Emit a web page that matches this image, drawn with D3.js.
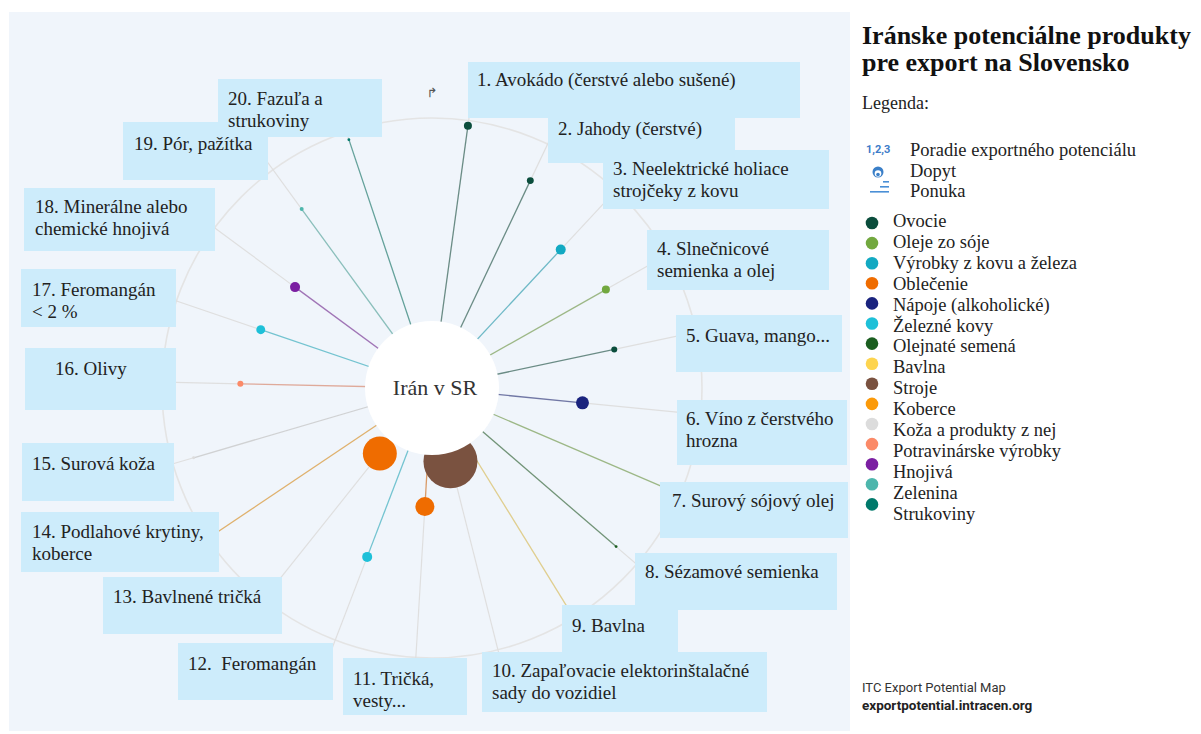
<!DOCTYPE html>
<html>
<head>
<meta charset="utf-8">
<script src="https://cdn.jsdelivr.net/npm/d3@7"></script>
<style>
  body { margin: 0; background: #fff; }
  svg text { font-family: "Liberation Serif", "Times New Roman", serif; fill: #222; }
</style>
</head>
<body>
<div id="chart"></div>
<script>
const width = 1201
const height = 734

// products ordered by export potential rank (label lines)
const products = [
  ["1. Avokádo (čerstvé alebo sušené)"],
  ["2. Jahody (čerstvé)"],
  ["3. Neelektrické holiace", "strojčeky z kovu"],
  ["4. Slnečnicové", "semienka a olej"],
  ["5. Guava, mango..."],
  ["6. Víno z čerstvého", "hrozna"],
  ["7. Surový sójový olej"],
  ["8. Sézamové semienka"],
  ["9. Bavlna"],
  ["10. Zapaľovacie elektorinštalačné", "sady do vozidiel"],
  ["11. Tričká,", "vesty..."],
  ["12.  Feromangán"],
  ["13. Bavlnené tričká"],
  ["14. Podlahové krytiny,", "koberce"],
  ["15. Surová koža"],
  ["16. Olivy"],
  ["17. Feromangán", "< 2 %"],
  ["18. Minerálne alebo", "chemické hnojivá"],
  ["19. Pór, pažítka"],
  ["20. Fazuľa a", "strukoviny"]
]

const categories = ["Ovocie", "Oleje zo sóje", "Výrobky z kovu a železa", "Oblečenie",
  "Nápoje (alkoholické)", "Železné kovy", "Olejnaté semená", "Bavlna", "Stroje", "Koberce",
  "Koža a produkty z nej", "Potravinárske výrobky", "Hnojivá", "Zelenina", "Strukoviny"]

const categoryColors = ["#0b4d3c", "#72a83f", "#12a9c2", "#ef6c00", "#1a237e", "#1ec0d8",
  "#1b5e20", "#fdd44f", "#7a5240", "#fb9a0a", "#dcdcdc", "#fb8a68", "#7b1fa2", "#4db6ac", "#00796b"]

// category of each product
const productCategory = ["Ovocie", "Ovocie", "Výrobky z kovu a železa", "Oleje zo sóje", "Ovocie",
  "Nápoje (alkoholické)", "Oleje zo sóje", "Olejnaté semená", "Bavlna", "Stroje", "Oblečenie",
  "Železné kovy", "Oblečenie", "Koberce", "Koža a produkty z nej", "Potravinárske výrobky",
  "Železné kovy", "Hnojivá", "Zelenina", "Strukoviny"]

// supply (ponuka), position of the dot along the spoke, 0..1
const supply = [0.98, 0.85, 0.70, 0.74, 0.69, 0.56, 0.93, 0.90, 0.97, 0.28,
  0.44, 0.67, 0.31, 0.96, 0.92, 0.71, 0.67, 0.63, 0.82, 0.97]

// demand (dopyt), dot area
const demand = [1.6, 1.2, 2.5, 1.6, 0.9, 4.2, 0.15, 0.2, 0.15, 72.9,
  9.0, 2.5, 28.9, 0.2, 0.2, 0.9, 2.0, 2.5, 0.4, 0.2]

// label box placement [x, y, w, h]
const labelBoxes = [
  [468, 62, 332, 56], [548, 115, 187, 48], [603, 150, 226, 59], [647, 230, 182, 60],
  [676, 315, 166, 57], [677, 400, 170, 65], [660, 482, 188, 56], [635, 553, 202, 57],
  [562, 605, 116, 47], [482, 652, 285, 60], [343, 658, 124, 57], [178, 643, 155, 57],
  [103, 577, 179, 57], [21, 512, 198, 60], [22, 443, 152, 58], [25, 348, 151, 62],
  [21, 269, 155, 58], [24, 188, 191, 63], [123, 122, 145, 58], [218, 79, 164, 58]
]
const textPad = [9, 10, 10, 10, 10, 9, 12, 10, 10, 10, 10, 10, 10, 11, 10, 30, 11, 11, 11, 10]
const textTop = [24, 20, 25, 25, 27, 25, 25, 25, 27, 25, 27, 27, 26, 26, 27, 27, 27, 25, 28, 26]

const data = products.map((label, i) => ({
  rank: i + 1, label, category: productCategory[i], supply: supply[i], demand: demand[i]
}))

const cx = 432, cy = 388

const svg = d3.select("#chart")
  .append("svg")
    .attr("width", width)
    .attr("height", height)

svg.append("rect")
  .attr("x", 9).attr("y", 12)
  .attr("width", 841).attr("height", 719)
  .attr("fill", "#f0f5fb")

const color = d3.scaleOrdinal()
  .domain(categories)
  .range(categoryColors)

const angle = d3.scaleLinear()
  .domain([1, 20])
  .range([7.8, 341.5].map(d => d * Math.PI / 180))

const radius = d3.scaleLinear()
  .domain([0, 1])
  .range([0, 270])

const size = d3.scaleSqrt()
  .domain([0, d3.max(demand)])
  .range([0, 27])

const px = (d, r) => cx + r * Math.sin(angle(d.rank))
const py = (d, r) => cy - r * Math.cos(angle(d.rank))

const g = svg.append("g")

// outer ring
g.append("circle")
  .attr("cx", cx).attr("cy", cy)
  .attr("r", radius(1))
  .attr("fill", "none")
  .attr("stroke", "#e4e4e4")
  .attr("stroke-width", 1.6)

// grey spokes running out to the labels
g.selectAll(".spoke")
  .data(data)
  .join("line")
    .attr("class", "spoke")
    .attr("x1", d => px(d, radius(d.supply)))
    .attr("y1", d => py(d, radius(d.supply)))
    .attr("x2", d => px(d, 300))
    .attr("y2", d => py(d, 300))
    .attr("stroke", "#dfdfdf")
    .attr("stroke-width", 1.2)

// coloured part from the centre to the dot
g.selectAll(".stem")
  .data(data)
  .join("line")
    .attr("class", "stem")
    .attr("x1", cx).attr("y1", cy)
    .attr("x2", d => px(d, radius(d.supply)))
    .attr("y2", d => py(d, radius(d.supply)))
    .attr("stroke", d => d3.interpolateRgb(color(d.category), "#9a9a9a")(0.35))
    .attr("stroke-opacity", 0.75)
    .attr("stroke-width", 1.3)

g.selectAll(".dot")
  .data(data)
  .join("circle")
    .attr("class", "dot")
    .attr("cx", d => px(d, radius(d.supply)))
    .attr("cy", d => py(d, radius(d.supply)))
    .attr("r", d => Math.max(1, size(d.demand)))
    .attr("fill", d => color(d.category))

// centre
g.append("circle")
  .attr("cx", cx).attr("cy", cy)
  .attr("r", 67)
  .attr("fill", "#fff")

g.append("text")
  .attr("x", cx + 3).attr("y", cy + 7)
  .attr("text-anchor", "middle")
  .style("font-size", "22px")
  .style("fill", "#333")
  .text("Irán v SR")

g.append("text")
  .attr("x", cx).attr("y", cy - 291)
  .attr("text-anchor", "middle")
  .style("font-family", "DejaVu Sans")
  .style("font-size", "13px")
  .style("fill", "#555")
  .text("↱")

// label boxes
const labels = svg.append("g")
labels.selectAll("rect")
  .data(data)
  .join("rect")
    .attr("x", (d, i) => labelBoxes[i][0])
    .attr("y", (d, i) => labelBoxes[i][1])
    .attr("width", (d, i) => labelBoxes[i][2])
    .attr("height", (d, i) => labelBoxes[i][3])
    .attr("fill", "#cdecfb")

labels.selectAll("text")
  .data(data)
  .join("text")
    .attr("x", (d, i) => labelBoxes[i][0] + textPad[i])
    .attr("y", (d, i) => labelBoxes[i][1] + textTop[i])
    .style("font-size", "19px")
    .style("white-space", "pre")
    .each(function(d, i) {
      d3.select(this).selectAll("tspan")
        .data(d.label)
        .join("tspan")
          .attr("x", labelBoxes[i][0] + textPad[i])
          .attr("dy", (t, j) => j === 0 ? 0 : 21.5)
          .text(t => t)
    })

// title and legend
const side = svg.append("g")
side.append("text")
  .attr("x", 862).attr("y", 44)
  .style("font-size", "26px").style("font-weight", "bold").style("fill", "#111")
  .selectAll("tspan")
  .data(["Iránske potenciálne produkty", "pre export na Slovensko"])
  .join("tspan")
    .attr("x", 862)
    .attr("dy", (t, j) => j === 0 ? 0 : 27)
    .text(t => t)

side.append("text")
  .attr("x", 862).attr("y", 109)
  .style("font-size", "18px")
  .text("Legenda:")

side.append("text")
  .attr("x", 866).attr("y", 153)
  .style("font-family", "Roboto, sans-serif")
  .style("font-size", "11px").style("font-weight", "bold")
  .style("fill", "#3d7cc9")
  .text("1,2,3")

side.append("circle").attr("cx", 878).attr("cy", 172).attr("r", 5.5).attr("fill", "#3a7fc8")
side.append("circle").attr("cx", 878).attr("cy", 173.5).attr("r", 3.3).attr("fill", "#fff")
side.append("circle").attr("cx", 878).attr("cy", 174.5).attr("r", 1.8).attr("fill", "#3a7fc8")

side.append("rect").attr("x", 870).attr("y", 191).attr("width", 19).attr("height", 1.6).attr("fill", "#4a8fd6")
side.append("rect").attr("x", 880).attr("y", 186).attr("width", 9).attr("height", 1.6).attr("fill", "#4a8fd6")
side.append("rect").attr("x", 883).attr("y", 181).attr("width", 6).attr("height", 1.6).attr("fill", "#4a8fd6")

side.selectAll(".key")
  .data(["Poradie exportného potenciálu", "Dopyt", "Ponuka"])
  .join("text")
    .attr("class", "key")
    .attr("x", 910)
    .attr("y", (t, i) => 156 + i * 20.5)
    .style("font-size", "18.5px")
    .text(t => t)

side.selectAll(".swatch")
  .data(categories)
  .join("circle")
    .attr("class", "swatch")
    .attr("cx", 872)
    .attr("cy", (c, i) => 223 + i * 20.1)
    .attr("r", 6.3)
    .attr("fill", c => color(c))

side.selectAll(".cat")
  .data(categories)
  .join("text")
    .attr("class", "cat")
    .attr("x", 893)
    .attr("y", (c, i) => 227 + i * 20.9)
    .style("font-size", "18.5px")
    .text(c => c)

side.append("text")
  .attr("x", 862).attr("y", 692)
  .style("font-family", "Roboto, sans-serif")
  .style("font-size", "13px").style("fill", "#333")
  .text("ITC Export Potential Map")

side.append("text")
  .attr("x", 862).attr("y", 710)
  .style("font-family", "Roboto, sans-serif")
  .style("font-size", "13.5px").style("font-weight", "bold").style("fill", "#222")
  .text("exportpotential.intracen.org")
</script>
</body>
</html>
